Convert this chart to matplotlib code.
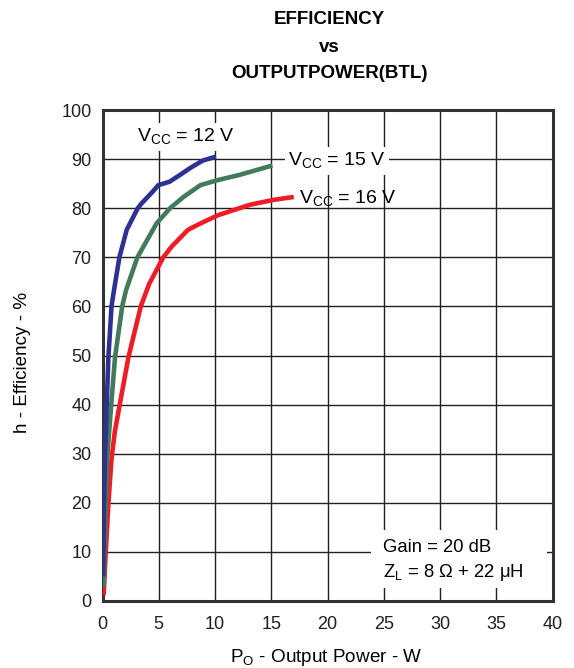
import numpy as np
import matplotlib.pyplot as plt
from matplotlib.patches import Rectangle

plt.rcParams['font.family'] = ['Liberation Sans', 'DejaVu Sans']
plt.rcParams['mathtext.fontset'] = 'custom'
plt.rcParams['mathtext.rm'] = 'Liberation Sans'

# Efficiency curves (PO in W, efficiency in %)
po_12 = [0.05, 0.08, 0.13, 0.22, 0.37, 0.52, 0.8, 1.02, 1.5, 2.15, 3.13,
         3.48, 4.47, 4.96, 5.4, 5.96, 6.9, 7.73, 8.9, 10.08]
eff_12 = [5.0, 9.6, 19.7, 29.7, 39.6, 49.6, 60.0, 63.3, 70.0, 75.6, 80.0,
          81.0, 83.4, 84.7, 85.0, 85.4, 86.8, 88.1, 89.7, 90.5]

po_15 = [0.1, 0.16, 0.28, 0.43, 0.76, 1.11, 1.75, 2.09, 3.1, 4.8, 6.0,
         7.2, 8.7, 10.2, 12.2, 15.1]
eff_15 = [2.9, 9.6, 19.7, 29.7, 39.6, 49.6, 60.0, 63.3, 70.0, 76.9, 80.0,
          82.3, 84.7, 85.7, 86.8, 88.7]

po_16 = [0.1, 0.28, 0.52, 0.8, 1.1, 1.5, 2.3, 3.4, 4.15, 5.4, 6.15, 7.6,
         8.7, 10.3, 13.1, 15.2, 17.0]
eff_16 = [1.2, 9.6, 19.7, 29.0, 34.6, 39.6, 49.6, 60.0, 64.6, 70.0, 72.2,
          75.6, 76.9, 78.6, 80.7, 81.7, 82.3]

fig = plt.figure(figsize=(5.74, 6.68), dpi=100)
ax = fig.add_axes([0.1786, 0.1003, 0.7840, 0.7350])

kw = dict(lw=3.3, solid_capstyle='butt', solid_joinstyle='round', zorder=3)
ax.plot(po_16, eff_16, color='#ee1c25', **kw)
ax.plot(po_15, eff_15, color='#437a5c', **kw)
ax.plot(po_12, eff_12, color='#2e3192', **kw)

ax.set_xlim(0, 40)
ax.set_ylim(0, 100)
ax.set_xticks(np.arange(0, 41, 5))
ax.set_yticks(np.arange(0, 101, 10))
ax.grid(True, color='#231f20', lw=1.0)
ax.tick_params(length=0, labelsize=13, colors='#231f20')
ax.tick_params(axis='x', pad=11)
ax.tick_params(axis='y', pad=8)
for s in ax.spines.values():
    s.set_linewidth(2.2)
    s.set_color('#333333')

fig.text(326 / 574, 1 - 657 / 668, r'P$_\mathregular{O}$ - Output Power - W',
         fontsize=13.6, ha='center', va='center')
fig.text(23 / 574, 1 - 362 / 668, 'h - Efficiency - %', fontsize=13.6,
         rotation=90, ha='center', va='center')

lbl = dict(fontsize=14, va='baseline', zorder=4)
wb = dict(facecolor='white', edgecolor='none', pad=2.5)
ax.text(3.04, 93.5, r'V$_\mathregular{CC}$ = 12 V', bbox=wb, **lbl)
ax.text(16.5, 88.6, r'V$_\mathregular{CC}$ = 15 V', bbox=wb, **lbl)
ax.text(17.5, 81.0, r'V$_\mathregular{CC}$ = 16 V', **lbl)

ax.add_patch(Rectangle((23.9, 2.65), 15.6, 11.85, facecolor='white',
                       edgecolor='none', zorder=2))
ax.text(24.96, 10.0, 'Gain = 20 dB', fontsize=13.3, va='baseline', zorder=4)
ax.text(24.96, 4.8, r'Z$_\mathregular{L}$ = 8 $\mathregular{\Omega}$ + 22 $\mathregular{\mu}$H',
        fontsize=13.3, va='baseline', zorder=4)

for t, yp in [('EFFICIENCY', 20), ('vs', 47), ('OUTPUTPOWER(BTL)', 74)]:
    fig.text(329 / 574, 1 - yp / 668, t, ha='center', va='center',
             fontsize=13.5, fontweight='bold')

fig.savefig('out.png', dpi=100)
